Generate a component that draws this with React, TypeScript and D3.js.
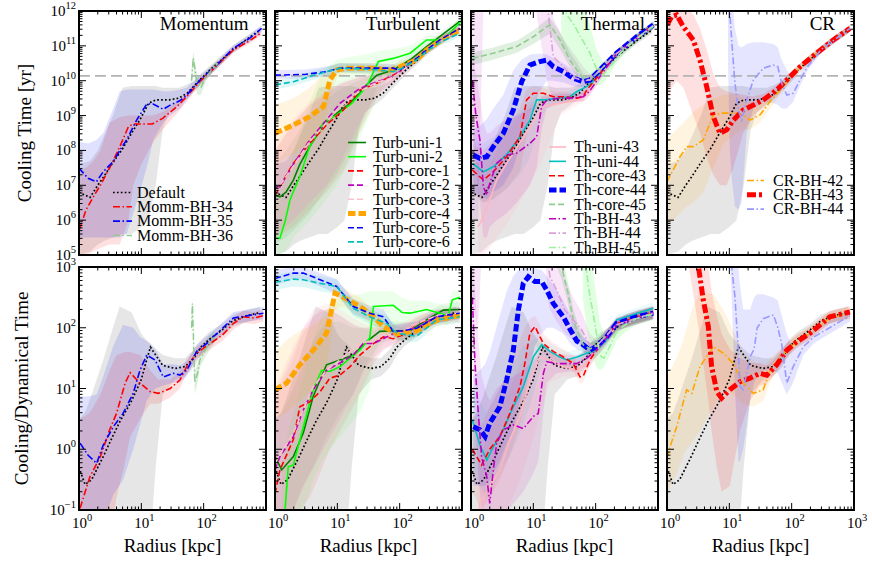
import React from "react";
import * as d3 from "d3";

// Each row: [radius (kpc), log10 median, log10 lower, log10 upper]
type Row = number[];

const defaultTop: Row[] = [
  [1.0, 6.8, 5.0, 7.6], [1.5, 6.65, 5.1, 7.7], [2.0, 7.0, 5.3, 8.0], [2.5, 7.25, 5.4, 8.4],
  [3.5, 7.65, 5.5, 9.0], [5.0, 8.05, 5.6, 9.8], [7.0, 8.5, 5.6, 9.85], [10, 8.95, 5.8, 9.85],
  [13, 9.35, 6.0, 9.85], [17, 9.45, 7.0, 9.85], [22, 9.45, 8.6, 9.8], [28, 9.45, 9.1, 9.8],
  [40, 9.5, 9.3, 9.8], [55, 9.65, 9.5, 9.9], [70, 9.85, 9.7, 10.0], [90, 10.05, 9.9, 10.2],
  [130, 10.33, 10.2, 10.45], [200, 10.62, 10.5, 10.75], [300, 10.9, 10.8, 11.0],
  [500, 11.2, 11.1, 11.3], [800, 11.45, 11.35, 11.55],
];
const defaultBot: Row[] = [
  [1.0, -0.3, -1.5, 0.5], [1.25, -0.58, -1.5, 0.6], [1.6, -0.5, -1.5, 0.9], [2.0, -0.3, -1.5, 1.2],
  [2.5, -0.1, -1.5, 1.5], [3.5, 0.22, -1.5, 2.0], [4.5, 0.45, -1.5, 2.35], [7.0, 0.8, -1.5, 2.25],
  [10, 1.15, -1.5, 1.9], [12, 1.45, -1.5, 1.8], [14, 1.68, -1.5, 1.75], [17, 1.55, -0.3, 1.65],
  [22, 1.38, 0.9, 1.55], [35, 1.33, 1.15, 1.5], [50, 1.36, 1.2, 1.5], [70, 1.5, 1.35, 1.65],
  [90, 1.68, 1.55, 1.8], [120, 1.8, 1.7, 1.92], [200, 1.97, 1.87, 2.07], [300, 2.12, 2.02, 2.22],
  [500, 2.2, 2.1, 2.3], [800, 2.25, 2.15, 2.35],
];

const mommBH34Top: Row[] = [
  [1.0, 5.7, 5.0, 7.4], [1.3, 6.3, 5.0, 7.5], [1.7, 6.67, 5.1, 7.7], [2.2, 7.0, 5.2, 8.0],
  [3.1, 7.5, 5.3, 8.8], [4.5, 8.1, 5.3, 8.95], [6.2, 8.68, 6.0, 9.0], [7.4, 8.76, 7.0, 9.0],
  [10, 8.76, 7.6, 9.0], [15, 8.76, 8.2, 9.0], [22, 8.92, 8.6, 9.1], [37, 9.25, 9.05, 9.4],
  [53, 9.54, 9.4, 9.65], [87, 9.98, 9.88, 10.08], [160, 10.42, 10.32, 10.52],
  [300, 10.88, 10.8, 10.98], [550, 11.15, 11.07, 11.25], [850, 11.38, 11.3, 11.46],
];
const mommBH34Bot: Row[] = [
  [1.04, -0.97, -1.5, 0.5], [1.5, -0.45, -1.5, 0.6], [2.2, -0.12, -1.5, 0.9], [3.1, 0.32, -1.5, 1.3],
  [4.0, 0.59, -0.8, 1.55], [5.5, 1.09, -0.2, 1.6], [6.6, 1.26, 0.2, 1.6], [9.5, 1.09, 0.5, 1.55],
  [13.8, 0.95, 0.75, 1.3], [18.7, 0.92, 0.75, 1.15], [29, 1.0, 0.85, 1.15], [41.5, 1.14, 1.0, 1.28],
  [53.5, 1.36, 1.25, 1.48], [77, 1.58, 1.48, 1.68], [111, 1.7, 1.6, 1.8], [200, 1.88, 1.78, 1.98],
  [300, 2.07, 1.97, 2.17], [430, 2.18, 2.08, 2.28], [650, 2.16, 2.06, 2.26], [900, 2.2, 2.1, 2.3],
];
const mommBH35Top: Row[] = [
  [1.0, 7.49, 5.5, 8.25], [1.4, 7.2, 5.5, 8.2], [1.9, 7.1, 5.5, 8.3], [2.45, 7.39, 5.5, 8.5],
  [3.55, 7.68, 5.5, 9.2], [4.5, 8.0, 5.5, 9.7], [5.8, 8.3, 5.6, 9.75], [8.4, 8.87, 6.5, 9.75],
  [12.2, 9.33, 7.5, 9.75], [15.5, 9.33, 8.3, 9.75], [22.5, 9.18, 8.8, 9.7], [29, 9.3, 9.0, 9.7],
  [42, 9.43, 9.2, 9.75], [53.5, 9.59, 9.45, 9.8], [87.5, 10.02, 9.9, 10.15], [163, 10.45, 10.35, 10.55],
  [299, 10.93, 10.83, 11.03], [550, 11.22, 11.12, 11.32], [850, 11.5, 11.4, 11.6],
];
const mommBH35Bot: Row[] = [
  [1.04, 0.1, -1.5, 0.87], [1.4, -0.1, -1.5, 0.87], [1.92, -0.23, -1.5, 0.9], [2.45, 0.07, -1.2, 1.2],
  [3.55, 0.37, -0.75, 1.7], [5.1, 0.59, -0.5, 2.05], [7.4, 0.92, 0.0, 2.0], [9.5, 1.3, 0.4, 1.85],
  [12.2, 1.55, 0.8, 1.78], [16.6, 1.47, 1.0, 1.65], [22.5, 1.19, 1.05, 1.4], [32.6, 1.25, 1.1, 1.4],
  [41.5, 1.22, 1.1, 1.38], [53.5, 1.3, 1.2, 1.45], [77, 1.61, 1.5, 1.72], [111, 1.74, 1.64, 1.85],
  [143, 1.85, 1.75, 1.95], [300, 2.16, 2.06, 2.26], [910, 2.24, 2.14, 2.34],
];
const mommBH36Top: Row[] = [
  [64, 10.0, 9.8, 10.3], [68, 10.65, 10.4, 10.85], [78, 9.95, 9.6, 10.2], [90, 9.8, 9.6, 10.0],
  [110, 10.12, 10.0, 10.25], [140, 10.35, 10.25, 10.45], [170, 10.5, 10.4, 10.6],
];
const mommBH36Bot: Row[] = [
  [64, 2.0, 1.8, 2.2], [66, 2.4, 2.2, 2.5], [72, 1.1, 0.9, 1.3], [80, 1.25, 1.1, 1.4],
  [87, 1.47, 1.35, 1.6], [118, 1.72, 1.6, 1.85], [150, 1.85, 1.75, 1.95],
];

const turbUni1Top: Row[] = [
  [1.0, 6.72, 5.3, 7.6], [1.2, 6.67, 5.4, 7.8], [1.5, 6.8, 5.5, 8.0], [1.97, 7.15, 5.7, 8.3],
  [2.5, 7.6, 5.9, 8.6], [3.6, 8.11, 6.2, 9.0], [6.0, 8.73, 6.8, 9.4], [9.8, 9.07, 7.3, 9.7],
  [16, 9.35, 8.0, 9.9], [29.5, 9.88, 9.0, 10.1], [43, 10.16, 9.8, 10.3], [79, 10.31, 10.15, 10.45],
  [147, 10.6, 10.45, 10.75], [270, 10.98, 10.85, 11.1], [920, 11.7, 11.6, 11.8],
];
const turbUni1Bot: Row[] = [
  [1.0, -0.12, -1.5, 0.5], [1.28, -0.34, -1.5, 0.6], [1.97, -0.12, -1.0, 1.0], [2.85, 0.27, -0.6, 1.4],
  [4.1, 0.87, -0.3, 1.8], [6.7, 1.39, 0.2, 2.1], [11, 1.47, 0.6, 2.1], [18, 1.55, 0.9, 2.0],
  [29.5, 1.77, 1.4, 2.0], [48, 1.94, 1.75, 2.1], [79, 1.95, 1.8, 2.1], [147, 1.95, 1.8, 2.1],
  [270, 2.13, 2.0, 2.25], [500, 2.29, 2.15, 2.4], [920, 2.3, 2.2, 2.42],
];
const turbUni2Top: Row[] = [
  [1.0, 5.48, 5.0, 6.5], [1.2, 5.48, 5.0, 6.8], [1.45, 5.96, 5.1, 7.2], [1.74, 6.58, 5.3, 7.6],
  [1.97, 6.82, 5.5, 8.0], [2.5, 7.25, 5.7, 8.5], [3.6, 8.11, 6.0, 9.4], [6.0, 8.8, 6.5, 10.3],
  [9.8, 9.02, 7.0, 10.6], [17, 9.35, 7.8, 10.7], [29.5, 9.83, 8.8, 10.75], [45.5, 10.55, 9.6, 10.85],
  [79, 10.64, 10.3, 10.9], [147, 10.79, 10.6, 11.0], [270, 11.17, 11.0, 11.3], [500, 11.17, 11.05, 11.3],
  [1000, 11.74, 11.6, 11.85],
];
const turbUni2Bot: Row[] = [
  [1.3, -1.5, -1.5, -0.3], [1.45, -1.0, -1.5, 0.0], [1.63, -0.29, -1.5, 0.3], [1.97, -0.26, -1.4, 0.6],
  [2.85, 0.37, -1.0, 1.2], [4.1, 0.98, -0.5, 1.8], [5.6, 1.3, -0.2, 2.2], [7.6, 1.28, 0.0, 2.35],
  [11, 1.36, 0.2, 2.5], [23, 1.63, 0.6, 2.55], [33, 1.83, 1.0, 2.6], [38, 2.35, 1.5, 2.6],
  [79, 2.37, 2.0, 2.6], [110, 2.25, 2.0, 2.5], [147, 2.24, 2.05, 2.45], [270, 2.3, 2.1, 2.45],
  [600, 2.2, 2.05, 2.35], [700, 2.46, 2.3, 2.6], [920, 2.5, 2.35, 2.62],
];
const turbCore1Top: Row[] = [
  [1.0, 6.72, 5.5, 8.0], [1.97, 7.63, 5.8, 8.8], [3.6, 8.2, 6.3, 9.3], [6.7, 8.73, 6.8, 9.7],
  [12.5, 9.16, 7.4, 9.95], [23, 9.73, 8.5, 10.1], [43, 9.93, 9.5, 10.2], [62, 10.07, 9.85, 10.25],
  [100, 10.26, 10.1, 10.4], [150, 10.5, 10.38, 10.62], [270, 10.9, 10.8, 11.0], [500, 11.2, 11.1, 11.3],
  [900, 11.5, 11.4, 11.6],
];
const turbCore1Bot: Row[] = [
  [1.0, -0.73, -1.5, 0.8], [1.2, -0.34, -1.5, 1.0], [1.97, 0.16, -1.3, 1.5], [2.5, 0.7, -1.0, 1.8],
  [3.6, 0.78, -0.8, 2.1], [5.3, 0.95, -0.4, 2.3], [7.6, 1.17, 0.0, 2.3], [11, 1.22, 0.3, 2.2],
  [16, 1.36, 0.6, 2.1], [23, 1.55, 0.9, 2.0], [38, 1.74, 1.4, 2.0], [55, 1.85, 1.65, 2.0],
  [79, 1.82, 1.7, 1.95], [110, 1.88, 1.78, 2.0], [187, 2.07, 1.95, 2.18], [400, 2.18, 2.08, 2.3],
  [900, 2.24, 2.14, 2.35],
];
const turbCore2Top: Row[] = [
  [1.0, 6.9, 5.6, 8.0], [1.2, 6.96, 5.7, 8.2], [1.97, 7.6, 6.0, 8.8], [3.6, 8.3, 6.5, 9.3],
  [6.7, 8.87, 7.0, 9.6], [11, 9.35, 7.6, 9.9], [23, 9.78, 8.8, 10.1], [43, 9.97, 9.6, 10.2],
  [79, 10.12, 9.95, 10.3], [100, 10.26, 10.1, 10.4], [150, 10.5, 10.38, 10.62], [270, 10.88, 10.78, 10.98],
  [500, 11.2, 11.1, 11.3], [900, 11.48, 11.38, 11.58],
];
const turbCore2Bot: Row[] = [
  [1.0, -0.34, -1.5, 0.9], [1.2, -0.12, -1.5, 1.1], [1.97, 0.21, -1.0, 1.6], [2.85, 0.65, -0.6, 2.0],
  [4.1, 0.98, -0.3, 2.2], [6.7, 1.3, 0.1, 2.3], [11, 1.42, 0.5, 2.2], [18, 1.55, 0.9, 2.05],
  [26, 1.74, 1.3, 2.0], [38, 1.74, 1.5, 1.95], [79, 1.9, 1.75, 2.05], [187, 2.0, 1.88, 2.12],
  [400, 2.18, 2.08, 2.3], [900, 2.2, 2.1, 2.32],
];
const turbCore3Top: Row[] = [
  [1.0, 6.8, 5.6, 8.2], [1.97, 7.55, 6.0, 8.9], [3.6, 8.25, 6.5, 9.4], [6.7, 8.8, 7.0, 9.7],
  [11, 9.25, 7.6, 9.95], [23, 9.7, 8.8, 10.15], [43, 9.95, 9.6, 10.25], [79, 10.1, 9.95, 10.3],
  [100, 10.24, 10.1, 10.4], [150, 10.48, 10.36, 10.6], [270, 10.86, 10.76, 10.96], [500, 11.18, 11.08, 11.28],
  [900, 11.46, 11.36, 11.56],
];
const turbCore3Bot: Row[] = [
  [1.0, -0.23, -1.5, 1.0], [1.97, 0.27, -1.0, 1.7], [4.1, 1.03, -0.3, 2.3], [6.7, 1.3, 0.1, 2.4],
  [11, 1.47, 0.5, 2.3], [23, 1.74, 1.0, 2.1], [38, 1.8, 1.5, 2.0], [55, 1.9, 1.7, 2.05],
  [79, 1.85, 1.72, 2.0], [187, 2.07, 1.95, 2.2], [400, 2.2, 2.1, 2.3], [900, 2.24, 2.14, 2.34],
];
const turbCore4Top: Row[] = [
  [1.0, 8.49, 7.6, 9.3], [1.97, 8.73, 7.9, 9.5], [3.6, 8.97, 8.2, 9.8], [6.0, 9.26, 8.5, 10.2],
  [7.6, 10.02, 9.5, 10.4], [9.8, 10.31, 10.1, 10.5], [14.5, 10.36, 10.2, 10.5], [38, 10.36, 10.2, 10.5],
  [70, 10.3, 10.15, 10.45], [100, 10.4, 10.28, 10.52], [187, 10.6, 10.5, 10.72], [270, 10.88, 10.78, 10.98],
  [500, 11.2, 11.1, 11.3], [920, 11.45, 11.35, 11.55],
];
const turbCore4Bot: Row[] = [
  [1.0, 0.98, 0.5, 1.6], [1.54, 1.09, 0.6, 1.8], [2.5, 1.39, 0.8, 1.95], [4.1, 1.63, 1.0, 2.05],
  [6.7, 1.91, 1.3, 2.2], [9.2, 2.57, 2.3, 2.75], [12.5, 2.5, 2.35, 2.65], [23, 2.35, 2.2, 2.5],
  [38, 2.18, 2.05, 2.3], [55, 2.02, 1.9, 2.15], [90, 1.9, 1.8, 2.02], [187, 1.95, 1.85, 2.07],
  [400, 2.13, 2.03, 2.25], [920, 2.2, 2.1, 2.32],
];
const turbCore5Top: Row[] = [
  [1.0, 10.16, 10.05, 10.3], [3.0, 10.18, 10.06, 10.32], [6.7, 10.26, 10.14, 10.4], [11, 10.36, 10.24, 10.5],
  [33, 10.36, 10.24, 10.5], [79, 10.36, 10.24, 10.48], [100, 10.3, 10.2, 10.42], [130, 10.45, 10.35, 10.57],
  [187, 10.64, 10.54, 10.75], [270, 10.88, 10.78, 10.98], [440, 11.17, 11.07, 11.27], [920, 11.5, 11.4, 11.6],
];
const turbCore5Bot: Row[] = [
  [1.0, 2.81, 2.7, 2.95], [1.97, 2.9, 2.8, 3.0], [2.85, 2.9, 2.8, 3.0], [5.3, 2.79, 2.68, 2.9],
  [9.8, 2.68, 2.56, 2.8], [18, 2.35, 2.22, 2.48], [33, 2.24, 2.12, 2.36], [55, 2.18, 2.06, 2.3],
  [79, 1.94, 1.84, 2.05], [110, 1.95, 1.85, 2.06], [187, 1.99, 1.89, 2.1], [390, 2.18, 2.08, 2.28],
  [920, 2.24, 2.14, 2.34],
];
const turbCore6Top: Row[] = [
  [1.0, 9.88, 9.75, 10.0], [1.97, 9.97, 9.85, 10.1], [3.6, 10.12, 10.0, 10.25], [6.7, 10.26, 10.14, 10.4],
  [11, 10.36, 10.24, 10.5], [33, 10.33, 10.2, 10.46], [79, 10.26, 10.14, 10.38], [110, 10.36, 10.26, 10.48],
  [187, 10.6, 10.5, 10.7], [270, 10.85, 10.75, 10.95], [440, 11.1, 11.0, 11.2], [920, 11.36, 11.26, 11.46],
];
const turbCore6Bot: Row[] = [
  [1.0, 2.75, 2.62, 2.88], [1.97, 2.8, 2.68, 2.92], [2.85, 2.79, 2.67, 2.9], [5.3, 2.73, 2.6, 2.85],
  [9.8, 2.68, 2.55, 2.8], [18, 2.32, 2.2, 2.45], [33, 2.18, 2.06, 2.3], [62, 2.07, 1.95, 2.2],
  [90, 1.91, 1.8, 2.02], [187, 1.86, 1.76, 1.97], [390, 2.13, 2.03, 2.24], [920, 2.18, 2.08, 2.28],
];

const thUni43Top: Row[] = [
  [1.3, 5.8, 5.0, 6.8], [1.58, 6.1, 5.0, 7.2], [2.0, 6.6, 5.2, 7.6], [2.58, 7.15, 5.5, 8.0],
  [3.5, 7.55, 5.8, 8.4], [4.77, 7.92, 6.2, 8.8], [8.8, 8.68, 7.0, 9.3], [14.5, 9.26, 7.8, 9.55],
  [26.8, 9.35, 9.0, 9.55], [50, 9.45, 9.3, 9.6], [72, 9.6, 9.45, 9.75], [100, 9.95, 9.82, 10.08],
  [200, 10.7, 10.6, 10.8], [450, 11.22, 11.12, 11.32], [840, 11.58, 11.48, 11.68],
];
const thUni43Bot: Row[] = [
  [1.3, -1.3, -1.5, -0.3], [1.39, -0.89, -1.5, -0.1], [2.0, -0.62, -1.5, 0.3], [2.9, -0.34, -1.3, 0.6],
  [4.2, 0.15, -0.9, 1.0], [6.1, 0.54, -0.5, 1.4], [8.8, 1.14, 0.0, 1.6], [12.8, 1.52, 0.6, 1.7],
  [18.5, 1.47, 1.1, 1.62], [30.3, 1.36, 1.2, 1.5], [50, 1.31, 1.18, 1.45], [72, 1.41, 1.3, 1.55],
  [100, 1.63, 1.52, 1.75], [150, 1.8, 1.7, 1.9], [217, 2.05, 1.95, 2.15], [455, 2.18, 2.08, 2.28],
  [840, 2.26, 2.16, 2.36],
];
const thUni44Top: Row[] = [
  [1.05, 7.63, 6.8, 8.3], [1.58, 7.39, 6.5, 8.2], [2.28, 7.53, 6.6, 8.4], [3.73, 7.88, 6.9, 8.7],
  [6.1, 8.39, 7.3, 9.1], [8.8, 8.87, 7.8, 9.4], [11.3, 9.45, 8.6, 9.6], [15.8, 9.45, 9.2, 9.6],
  [25, 9.5, 9.35, 9.65], [38.6, 9.54, 9.4, 9.7], [50, 9.69, 9.55, 9.82], [72, 9.83, 9.7, 9.95],
  [90, 9.97, 9.85, 10.1], [200, 10.7, 10.6, 10.8], [450, 11.25, 11.15, 11.35], [840, 11.62, 11.52, 11.72],
];
const thUni44Bot: Row[] = [
  [1.05, 0.48, -0.3, 1.0], [1.39, 0.07, -0.6, 0.8], [1.79, -0.18, -0.8, 0.6], [2.28, 0.04, -0.6, 0.8],
  [3.3, 0.32, -0.3, 1.1], [4.77, 0.7, 0.0, 1.4], [6.9, 1.03, 0.4, 1.7], [10, 1.52, 0.9, 1.8],
  [13.6, 1.72, 1.4, 1.85], [18.5, 1.61, 1.45, 1.75], [26.8, 1.52, 1.38, 1.65], [34.4, 1.47, 1.35, 1.6],
  [50, 1.52, 1.4, 1.65], [72, 1.58, 1.47, 1.7], [103, 1.63, 1.52, 1.75], [150, 1.8, 1.7, 1.9],
  [217, 2.13, 2.0, 2.22], [840, 2.32, 2.22, 2.42],
];
const thCore43Top: Row[] = [
  [1.05, 7.44, 6.8, 8.2], [1.58, 7.15, 6.5, 8.0], [2.28, 7.39, 6.6, 8.3], [3.73, 7.82, 6.9, 8.7],
  [6.1, 8.39, 7.4, 9.2], [7.8, 9.45, 8.4, 9.75], [10, 9.64, 9.1, 9.85], [14.5, 9.64, 9.4, 9.8],
  [20.9, 9.54, 9.4, 9.7], [30, 9.54, 9.4, 9.68], [50, 9.5, 9.38, 9.62], [63, 9.54, 9.42, 9.66],
  [72, 9.73, 9.6, 9.85], [100, 10.05, 9.93, 10.17], [200, 10.72, 10.62, 10.82], [450, 11.24, 11.14, 11.34],
  [840, 11.6, 11.5, 11.7],
];
const thCore43Bot: Row[] = [
  [1.05, 0.0, -0.7, 0.6], [1.48, -0.26, -1.0, 0.4], [2.0, 0.0, -0.8, 0.7], [2.9, 0.21, -0.5, 1.0],
  [4.2, 0.59, -0.1, 1.4], [6.1, 1.03, 0.4, 1.8], [7.3, 1.41, 0.8, 2.0], [8.8, 1.91, 1.4, 2.15],
  [10.6, 2.02, 1.7, 2.2], [12.8, 1.85, 1.65, 2.05], [14.5, 1.74, 1.58, 1.9], [20.9, 1.61, 1.48, 1.75],
  [30.3, 1.52, 1.38, 1.65], [43.8, 1.41, 1.28, 1.55], [56, 1.19, 1.08, 1.32], [63, 1.2, 1.1, 1.33],
  [81, 1.47, 1.35, 1.6], [103, 1.63, 1.52, 1.75], [217, 2.07, 1.97, 2.17], [840, 2.26, 2.16, 2.36],
];
const thCore44Top: Row[] = [
  [1.09, 7.87, 6.8, 8.6], [1.39, 7.77, 6.7, 8.7], [1.79, 7.82, 6.6, 8.9], [2.28, 8.11, 6.8, 9.2],
  [3.3, 8.49, 7.0, 9.6], [4.77, 9.16, 7.5, 10.3], [6.5, 9.97, 8.3, 10.6], [8.8, 10.45, 9.0, 10.75],
  [12.8, 10.55, 9.7, 10.78], [16.4, 10.59, 10.0, 10.75], [20.9, 10.4, 10.0, 10.65], [30.3, 10.26, 9.95, 10.5],
  [43.8, 10.07, 9.85, 10.3], [63, 9.97, 9.82, 10.12], [81, 10.02, 9.9, 10.14], [117, 10.31, 10.2, 10.42],
  [217, 10.79, 10.69, 10.89], [455, 11.26, 11.16, 11.36], [840, 11.6, 11.5, 11.7],
];
const thCore44Bot: Row[] = [
  [1.09, 0.37, -0.6, 1.2], [1.39, 0.32, -0.6, 1.3], [1.68, 0.21, -0.6, 1.4], [2.0, 0.43, -0.5, 1.6],
  [2.9, 0.7, -0.2, 2.2], [3.73, 1.14, 0.1, 2.6], [4.77, 1.63, 0.3, 2.85], [5.75, 2.29, 0.7, 2.95],
  [6.9, 2.73, 1.0, 3.0], [8.3, 2.84, 1.3, 3.0], [10.6, 2.76, 1.7, 2.98], [13.6, 2.76, 1.9, 2.95],
  [16.4, 2.62, 2.0, 2.85], [20.9, 2.4, 2.0, 2.7], [30.3, 2.18, 1.9, 2.45], [40, 1.95, 1.72, 2.2],
  [50, 1.78, 1.65, 1.98], [63, 1.72, 1.6, 1.85], [81, 1.63, 1.52, 1.75], [103, 1.69, 1.58, 1.8],
  [150, 1.85, 1.75, 1.95], [217, 2.07, 1.97, 2.17], [455, 2.18, 2.08, 2.28], [840, 2.24, 2.14, 2.34],
];
const thCore45Top: Row[] = [
  [1.05, 10.64, 10.45, 10.8], [2.28, 10.79, 10.6, 10.95], [5.4, 10.98, 10.8, 11.15], [10, 11.26, 11.05, 11.45],
  [16.4, 11.55, 11.3, 11.75], [18.5, 11.6, 11.35, 11.8], [26.8, 11.17, 10.9, 11.4], [38.6, 10.59, 10.4, 10.8],
  [50, 10.31, 10.15, 10.5], [63, 10.07, 9.95, 10.2], [81, 10.02, 9.92, 10.12], [117, 10.3, 10.2, 10.4],
  [217, 10.78, 10.68, 10.88], [840, 11.58, 11.48, 11.68],
];
const thCore45Bot: Row[] = [
  [20, 3.5, 3.2, 3.7], [28.5, 3.0, 2.8, 3.2], [36, 2.57, 2.4, 2.75], [43.8, 2.13, 1.95, 2.3],
  [52.6, 1.91, 1.78, 2.05], [63, 1.72, 1.6, 1.85], [81, 1.65, 1.55, 1.75], [103, 1.7, 1.6, 1.8],
  [217, 2.05, 1.95, 2.15], [840, 2.24, 2.14, 2.34],
];
const thBH43Top: Row[] = [
  [1.05, 10.0, 8.5, 10.8], [1.2, 9.0, 7.5, 10.2], [1.39, 8.3, 6.5, 9.5], [1.58, 6.96, 5.5, 8.8],
  [1.79, 6.72, 5.5, 8.5], [2.0, 7.05, 5.8, 8.5], [2.58, 7.63, 6.0, 8.7], [3.73, 7.87, 6.2, 8.9],
  [5.4, 7.92, 6.5, 9.0], [8.8, 8.2, 7.0, 9.2], [11.3, 8.39, 7.5, 9.3], [13.6, 9.26, 8.6, 9.55],
  [16.4, 9.45, 9.2, 9.6], [26.8, 9.5, 9.35, 9.62], [40, 9.5, 9.38, 9.62], [63, 9.54, 9.42, 9.66],
  [80, 9.7, 9.58, 9.82], [100, 9.95, 9.83, 10.07], [217, 10.78, 10.68, 10.88], [840, 11.58, 11.48, 11.68],
];
const thBH43Bot: Row[] = [
  [1.05, 2.5, 1.5, 3.2], [1.16, 1.41, 0.5, 2.6], [1.31, 0.59, -0.4, 1.8], [1.48, -0.12, -1.0, 1.2],
  [1.79, -0.45, -1.5, 0.9], [2.0, -0.89, -1.5, 0.8], [2.28, -0.34, -1.5, 0.9], [2.58, 0.1, -1.3, 1.0],
  [3.3, 0.32, -1.1, 1.1], [4.77, 0.4, -0.9, 1.2], [6.9, 0.34, -0.7, 1.3], [10, 0.54, -0.4, 1.45],
  [12, 0.59, -0.2, 1.55], [14.5, 1.25, 0.6, 1.65], [16.4, 1.44, 1.1, 1.65], [23.7, 1.41, 1.25, 1.58],
  [38.6, 1.41, 1.28, 1.55], [50, 1.41, 1.28, 1.55], [72, 1.5, 1.38, 1.63], [103, 1.63, 1.52, 1.75],
  [217, 2.05, 1.95, 2.15], [840, 2.24, 2.14, 2.34],
];
const thBH44Top: Row[] = [
  [1.0, 13.0, 6.0, 12.5], [1.3, 13.0, 6.0, 12.5], [1.45, 13.0, 9.5, 12.5], [1.6, 13.0, 12.5, 12.5],
  [10, 13.0, 12.5, 12.5], [15, 12.6, 10.5, 12.5], [17.4, 11.93, 9.8, 12.5], [20.9, 10.69, 9.5, 11.8],
  [30.3, 10.4, 9.5, 11.2], [43.8, 10.1, 9.5, 10.8], [63, 10.0, 9.6, 10.4], [80, 10.02, 9.8, 10.2],
  [117, 10.3, 10.2, 10.4], [217, 10.78, 10.68, 10.88], [840, 11.58, 11.48, 11.68],
];
const thBH44Bot: Row[] = [
  [1.0, 3.6, 2.6, 3.5], [1.3, 3.6, 2.0, 3.5], [1.5, 3.6, 3.3, 3.5], [15, 3.5, 3.3, 3.5],
  [17.5, 3.0, 2.4, 3.5], [18.5, 2.84, 2.3, 3.3], [23.7, 2.62, 2.1, 3.1], [32, 2.29, 1.9, 2.8],
  [43.8, 2.13, 1.8, 2.5], [60, 1.96, 1.7, 2.25], [80, 1.72, 1.6, 1.9], [103, 1.7, 1.6, 1.8],
  [217, 2.05, 1.95, 2.15], [840, 2.24, 2.14, 2.34],
];
const thBH45Top: Row[] = [
  [28, 12.6, 11.0, 12.5], [34, 11.9, 10.8, 12.5], [45, 11.6, 10.5, 12.5], [60, 11.2, 10.1, 12.4],
  [81, 10.79, 9.9, 11.6], [103, 10.35, 9.85, 10.9], [130, 10.15, 9.9, 10.55], [170, 10.4, 10.2, 10.65],
  [250, 10.8, 10.65, 10.95], [450, 11.2, 11.08, 11.32], [840, 11.56, 11.46, 11.66],
];
const thBH45Bot: Row[] = [
  [62, 3.3, 2.5, 3.5], [72, 2.9, 2.0, 3.4], [81, 2.51, 1.7, 3.2], [91, 2.24, 1.5, 2.9],
  [103, 1.91, 1.35, 2.5], [117, 1.55, 1.3, 2.1], [135, 1.5, 1.35, 1.9], [170, 1.7, 1.55, 1.9],
  [220, 1.95, 1.8, 2.08], [300, 2.05, 1.93, 2.15], [450, 2.15, 2.05, 2.25], [800, 2.22, 2.12, 2.32],
];

const crBH42Top: Row[] = [
  [1.0, 7.1, 5.8, 8.3], [1.1, 7.25, 5.9, 8.4], [1.62, 7.82, 6.2, 8.7], [2.07, 8.11, 6.4, 8.9],
  [2.64, 8.11, 6.5, 9.1], [3.82, 8.3, 6.8, 9.3], [5.53, 9.02, 7.5, 9.5], [8, 9.07, 8.2, 9.6],
  [13.1, 9.07, 8.5, 9.6], [16.7, 9.02, 8.6, 9.5], [21.5, 8.87, 8.6, 9.4], [31, 9.02, 8.8, 9.35],
  [45, 9.4, 9.2, 9.55], [73, 9.83, 9.7, 9.95], [136, 10.4, 10.3, 10.5], [252, 10.79, 10.69, 10.89],
  [465, 11.17, 11.07, 11.27], [860, 11.5, 11.4, 11.6],
];
const crBH42Bot: Row[] = [
  [1.0, -0.15, -0.8, 1.2], [1.12, 0.04, -0.6, 1.3], [1.43, 0.37, -0.4, 1.5], [1.83, 0.78, -0.1, 1.8],
  [2.07, 0.98, 0.0, 2.0], [2.5, 0.92, 0.1, 2.3], [3.38, 1.36, 0.3, 2.6], [5.53, 1.69, 0.7, 2.55],
  [8, 1.58, 1.0, 2.3], [11.6, 1.41, 0.9, 1.95], [16.7, 1.09, 0.75, 1.6], [24.3, 0.92, 0.7, 1.45],
  [35, 0.98, 0.8, 1.35], [45, 1.3, 1.1, 1.5], [65, 1.52, 1.38, 1.65], [121, 1.77, 1.67, 1.87],
  [197, 1.91, 1.81, 2.01], [410, 2.16, 2.06, 2.26], [860, 2.24, 2.14, 2.34],
];
const crBH43Top: Row[] = [
  [1.0, 11.6, 9.3, 12.3], [1.19, 11.84, 9.8, 12.3], [1.43, 11.89, 10.0, 12.3], [1.83, 11.55, 9.8, 12.2],
  [2.64, 11.17, 9.0, 11.9], [3.38, 10.59, 8.5, 11.5], [4.33, 9.83, 7.8, 10.9], [5.53, 8.97, 7.3, 10.2],
  [7.07, 8.49, 7.0, 9.8], [9.05, 8.59, 7.0, 9.7], [11.6, 8.87, 7.5, 9.65], [16.7, 9.16, 8.5, 9.6],
  [24.3, 9.3, 9.0, 9.55], [35, 9.45, 9.25, 9.62], [57.5, 9.73, 9.6, 9.86], [83.5, 10.02, 9.9, 10.14],
  [136, 10.4, 10.3, 10.5], [252, 10.79, 10.69, 10.89], [465, 11.17, 11.07, 11.27], [860, 11.5, 11.4, 11.6],
];
const crBH43Bot: Row[] = [
  [1.0, 4.3, 3.5, 4.5], [2.0, 4.0, 3.3, 4.5], [2.6, 3.6, 2.6, 4.0], [3.2, 3.0, 2.0, 3.5],
  [3.82, 2.46, 1.4, 3.3], [4.6, 2.02, 0.8, 3.0], [5.2, 1.36, 0.3, 2.6], [6.3, 0.95, -0.3, 2.2],
  [7.5, 0.84, -0.7, 1.9], [10.2, 0.98, -0.6, 1.65], [14.8, 1.11, 0.3, 1.5], [21.5, 1.17, 0.8, 1.42],
  [31, 1.25, 1.05, 1.42], [40, 1.22, 1.08, 1.38], [57.5, 1.39, 1.27, 1.52], [83.5, 1.63, 1.52, 1.75],
  [121, 1.77, 1.67, 1.88], [197, 1.91, 1.81, 2.02], [410, 2.18, 2.08, 2.28], [860, 2.26, 2.16, 2.36],
];
const crBH44Top: Row[] = [
  [9.5, 12.6, 10.5, 12.5], [10.2, 11.93, 8.0, 12.5], [10.9, 11.17, 7.2, 12.5], [12.3, 9.93, 6.4, 11.5],
  [14, 9.16, 6.3, 11.0], [15.8, 8.87, 6.5, 10.95], [19, 9.45, 8.5, 11.05], [24.3, 10.02, 9.2, 11.1],
  [35, 10.36, 9.4, 11.1], [51, 10.45, 9.35, 11.05], [60, 10.4, 9.3, 10.95], [69, 9.93, 9.2, 10.6],
  [83.5, 9.59, 9.2, 10.3], [106, 9.64, 9.4, 10.1], [136, 10.02, 9.85, 10.2], [180, 10.4, 10.3, 10.52],
  [300, 10.9, 10.8, 11.0], [860, 11.5, 11.4, 11.6],
];
const crBH44Bot: Row[] = [
  [10.3, 3.5, 3.0, 3.5], [10.9, 3.0, 2.5, 3.4], [12.3, 2.51, 1.0, 3.3], [14, 1.6, -0.2, 3.0],
  [14.8, 1.03, -0.2, 2.7], [16.7, 0.98, 0.0, 2.3], [21.5, 1.52, 0.8, 2.3], [25, 1.65, 1.1, 2.5],
  [28, 2.0, 1.2, 2.55], [35, 2.15, 1.3, 2.55], [51, 2.21, 1.3, 2.5], [60, 2.0, 1.25, 2.45],
  [69, 1.74, 1.1, 2.2], [83.5, 1.09, 0.9, 1.9], [106, 1.36, 1.1, 1.65], [154, 1.69, 1.55, 1.82],
  [230, 1.85, 1.75, 1.97], [860, 2.2, 2.1, 2.3],
];

const panelTitles = ["Momentum", "Turbulent", "Thermal", "CR"];
const hubbleLog = 10.14;
const xTickExp = [0, 1, 2, 3];

const FONT = "'Liberation Serif', 'Times New Roman', 'DejaVu Serif', serif";
const DOT = "1.7,2.2";
const DASHDOT = "7,2.5,1.5,2.5";
const DASH = "6,3";
const TDASH = "7.5,3";
const TDASHDOT = "9,3,3,3";

interface Series {
  label: string; top: Row[]; bot: Row[]; color: string; dash: string; width: number;
  band: string; op: number;
}

const S = (label: string, top: Row[], bot: Row[], color: string, dash: string, width: number, band: string, op: number): Series =>
  ({ label, top, bot, color, dash, width, band, op });

const defaultSeries = S("Default", defaultTop, defaultBot, "#000000", DOT, 1.7, "#808080", 0.2);

const panelSeries: Series[][] = [
  [
    S("Momm-BH-34", mommBH34Top, mommBH34Bot, "#ff0000", DASHDOT, 1.6, "#ff0000", 0.12),
    S("Momm-BH-35", mommBH35Top, mommBH35Bot, "#0000ff", DASHDOT, 1.6, "#0000ff", 0.12),
    S("Momm-BH-36", mommBH36Top, mommBH36Bot, "#90cc90", DASHDOT, 1.5, "#008000", 0.12),
  ],
  [
    S("Turb-uni-1", turbUni1Top, turbUni1Bot, "#008000", "", 1.6, "#008000", 0.07),
    S("Turb-uni-2", turbUni2Top, turbUni2Bot, "#00ff00", "", 1.6, "#00ff00", 0.08),
    S("Turb-core-1", turbCore1Top, turbCore1Bot, "#ff0000", DASH, 1.6, "#ff0000", 0.07),
    S("Turb-core-2", turbCore2Top, turbCore2Bot, "#bf00bf", DASH, 1.6, "#bf00bf", 0.07),
    S("Turb-core-3", turbCore3Top, turbCore3Bot, "#ffc0cb", DASH, 1.6, "#ffc0cb", 0.2),
    S("Turb-core-4", turbCore4Top, turbCore4Bot, "#ffa500", TDASH, 5, "#ffa500", 0.12),
    S("Turb-core-5", turbCore5Top, turbCore5Bot, "#0000ff", DASH, 1.6, "#0000ff", 0.1),
    S("Turb-core-6", turbCore6Top, turbCore6Bot, "#00bfbf", DASH, 1.6, "#00bfbf", 0.12),
  ],
  [
    S("Th-uni-43", thUni43Top, thUni43Bot, "#ffb6c1", "", 1.6, "#ffb6c1", 0.2),
    S("Th-uni-44", thUni44Top, thUni44Bot, "#00bfbf", "", 1.6, "#00bfbf", 0.08),
    S("Th-core-43", thCore43Top, thCore43Bot, "#ff0000", DASH, 1.6, "#ff0000", 0.07),
    S("Th-core-44", thCore44Top, thCore44Bot, "#0000ff", TDASH, 5, "#0000ff", 0.1),
    S("Th-core-45", thCore45Top, thCore45Bot, "#90cc90", DASH, 1.6, "#008000", 0.12),
    S("Th-BH-43", thBH43Top, thBH43Bot, "#bf00bf", DASHDOT, 1.6, "#bf00bf", 0.1),
    S("Th-BH-44", thBH44Top, thBH44Bot, "#dba0db", DASHDOT, 1.6, "#bf00bf", 0.1),
    S("Th-BH-45", thBH45Top, thBH45Bot, "#9df09d", DASHDOT, 1.6, "#00ff00", 0.12),
  ],
  [
    S("CR-BH-42", crBH42Top, crBH42Bot, "#ffa500", DASHDOT, 1.6, "#ffa500", 0.12),
    S("CR-BH-43", crBH43Top, crBH43Bot, "#ff0000", TDASHDOT, 5, "#ff0000", 0.12),
    S("CR-BH-44", crBH44Top, crBH44Bot, "#9999ff", DASHDOT, 1.6, "#0000ff", 0.1),
  ],
];

// layout
const COLX = [79, 275, 471, 667];
const PW = 187;
const ROWS = [
  { top: 11, bottom: 255, lo: 1e5, hi: 1e12 },
  { top: 267, bottom: 510, lo: 0.1, hi: 1e3 },
];
const LEGENDS = [
  { x1: 113, x2: 132, tx: 137, y0: 192.5, dy: 14.3, withDefault: true },
  { x1: 348, x2: 366, tx: 373, y0: 142.5, dy: 14.2, withDefault: false },
  { x1: 549, x2: 566, tx: 574, y0: 147, dy: 14.35, withDefault: false },
  { x1: 747, x2: 764, tx: 773, y0: 180.5, dy: 14.3, withDefault: false },
];
const TITLE_END = [248.5, 440, 645, 835];

const p10 = (v: number) => Math.pow(10, v);
const isMajor = (v: number) => Math.abs(Math.log10(v) - Math.round(Math.log10(v))) < 1e-6;
const expText = (e: number) => (e < 0 ? "\u2212" + Math.abs(e) : String(e));

export default function App() {
  const W = 872, H = 561;
  const els: React.ReactNode[] = [];

  COLX.forEach((x0, c) => {
    const xs = d3.scaleLog().domain([1, 1000]).range([x0, x0 + PW]);
    ROWS.forEach((row, ri) => {
      const ys = d3.scaleLog().domain([row.lo, row.hi]).range([row.bottom, row.top]);
      const area = d3.area<Row>().x(d => xs(d[0])).y0(d => ys(p10(d[2]))).y1(d => ys(p10(d[3])));
      const line = d3.line<Row>().x(d => xs(d[0])).y(d => ys(p10(d[1])));
      const id = `clip-${c}-${ri}`;
      const series = [defaultSeries, ...panelSeries[c]];
      const get = (s: Series) => (ri === 0 ? s.top : s.bot);
      const xt = xs.ticks();
      const yt = ys.ticks();
      els.push(
        <g key={id}>
          <clipPath id={id}>
            <rect x={x0} y={row.top} width={PW} height={row.bottom - row.top} />
          </clipPath>
          <g clipPath={`url(#${id})`}>
            {series.map(s => (
              <path key={"b" + s.label} d={area(get(s)) || ""} fill={s.band} fillOpacity={s.op} stroke="none" />
            ))}
            {ri === 0 && (
              <line x1={x0} x2={x0 + PW} y1={ys(p10(hubbleLog))} y2={ys(p10(hubbleLog))}
                stroke="#b4b4b4" strokeWidth={1.6} strokeDasharray="11,5" />
            )}
            {series.map(s => (
              <path key={"l" + s.label} d={line(get(s)) || ""} fill="none" stroke={s.color}
                strokeWidth={s.width} strokeDasharray={s.dash || undefined} />
            ))}
          </g>
          {xt.map((v, i) => {
            const L = isMajor(v) ? 7 : 3.5;
            const x = xs(v);
            return (
              <g key={"xt" + i}>
                <line x1={x} x2={x} y1={row.bottom} y2={row.bottom - L} stroke="#000" strokeWidth={1} />
                <line x1={x} x2={x} y1={row.top} y2={row.top + L} stroke="#000" strokeWidth={1} />
              </g>
            );
          })}
          {yt.map((v, i) => {
            const L = isMajor(v) ? 7 : 3.5;
            const y = ys(v);
            return (
              <g key={"yt" + i}>
                <line x1={x0} x2={x0 + L} y1={y} y2={y} stroke="#000" strokeWidth={1} />
                <line x1={x0 + PW} x2={x0 + PW - L} y1={y} y2={y} stroke="#000" strokeWidth={1} />
              </g>
            );
          })}
          <rect x={x0} y={row.top} width={PW} height={row.bottom - row.top} fill="none" stroke="#000" strokeWidth={2} />
          {c === 0 && yt.filter(isMajor).map((v, i) => (
            <text key={"yl" + i} x={76} y={ys(v) + 5} textAnchor="end" fontFamily={FONT} fontSize={15}>
              10<tspan dy={-7} fontSize={10.5}>{expText(Math.round(Math.log10(v)))}</tspan>
            </text>
          ))}
          {ri === 1 && xTickExp.filter(e => c === 3 || e < 3).map(e => (
            <text key={"xl" + e} x={xs(p10(e)) + 3} y={528} textAnchor="middle" fontFamily={FONT} fontSize={15}>
              10<tspan dy={-7} fontSize={10.5}>{expText(e)}</tspan>
            </text>
          ))}
        </g>
      );
    });

    // title
    els.push(
      <text key={"title" + c} x={TITLE_END[c]} y={29.5} textAnchor="end" fontFamily={FONT} fontSize={19}>
        {panelTitles[c]}
      </text>
    );
    // x-axis label
    els.push(
      <text key={"xlab" + c} x={x0 + PW / 2} y={552} textAnchor="middle" fontFamily={FONT} fontSize={19}>
        Radius [kpc]
      </text>
    );
    // legend
    const lg = LEGENDS[c];
    const entries = lg.withDefault ? [defaultSeries, ...panelSeries[c]] : panelSeries[c];
    entries.forEach((s, i) => {
      const y = lg.y0 + i * lg.dy;
      els.push(
        <g key={"lg" + c + "-" + i}>
          <line x1={lg.x1} x2={lg.x2} y1={y} y2={y} stroke={s.color} strokeWidth={s.width}
            strokeDasharray={s.dash || undefined} />
          <text x={lg.tx} y={y + 5.2} fontFamily={FONT} fontSize={16}>{s.label}</text>
        </g>
      );
    });
  });

  return (
    <svg width={W} height={H} viewBox={`0 0 ${W} ${H}`}
      style={{ position: "absolute", left: 0, top: 0, background: "#fff" }}>
      <rect x={0} y={0} width={W} height={H} fill="#fff" />
      {els}
      <text transform="translate(30.5,133) rotate(-90)" textAnchor="middle" fontFamily={FONT} fontSize={19}>
        Cooling Time [yr]
      </text>
      <text transform="translate(28,388.5) rotate(-90)" textAnchor="middle" fontFamily={FONT} fontSize={19}>
        Cooling/Dynamical Time
      </text>
    </svg>
  );
}
